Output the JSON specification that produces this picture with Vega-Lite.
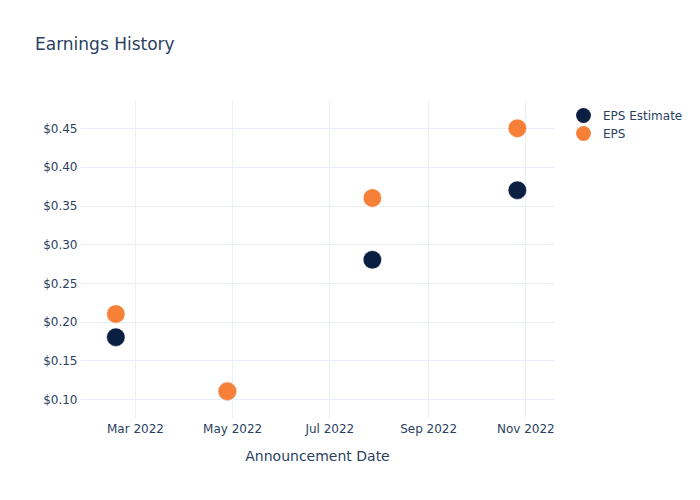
{
  "$schema": "https://vega.github.io/schema/vega-lite/v6.json",
  "width": 474,
  "height": 318,
  "autosize": "none",
  "padding": {"left": 80, "top": 100, "right": 146, "bottom": 82},
  "background": "white",
  "title": {
    "text": "Earnings History",
    "anchor": "start",
    "frame": "group",
    "dx": -45,
    "offset": 46,
    "font": "DejaVu Sans",
    "fontSize": 17,
    "fontWeight": "normal",
    "color": "#2a3f5f"
  },
  "config": {
    "view": {"stroke": null},
    "font": "DejaVu Sans"
  },
  "data": {
    "values": [
      {"date": "2022-02-17", "series": "EPS Estimate", "value": 0.18},
      {"date": "2022-04-28", "series": "EPS Estimate", "value": 0.11},
      {"date": "2022-07-28", "series": "EPS Estimate", "value": 0.28},
      {"date": "2022-10-27", "series": "EPS Estimate", "value": 0.37},
      {"date": "2022-02-17", "series": "EPS", "value": 0.21},
      {"date": "2022-04-28", "series": "EPS", "value": 0.11},
      {"date": "2022-07-28", "series": "EPS", "value": 0.36},
      {"date": "2022-10-27", "series": "EPS", "value": 0.45}
    ]
  },
  "mark": {"type": "circle", "size": 340, "opacity": 1, "stroke": "white", "strokeWidth": 0.5, "clip": false},
  "encoding": {
    "x": {
      "field": "date",
      "type": "temporal",
      "title": "Announcement Date",
      "scale": {"domain": ["2022-01-25T12:00:00", "2022-11-19T00:00:00"], "nice": false},
      "axis": {
        "values": ["2022-03-01T00:00:00", "2022-05-01T00:00:00", "2022-07-01T00:00:00", "2022-09-01T00:00:00", "2022-11-01T00:00:00"],
        "format": "%b %Y",
        "domain": false,
        "ticks": false,
        "grid": true,
        "gridColor": "#ebf0f8",
        "gridWidth": 1,
        "labelFont": "DejaVu Sans",
        "labelFontSize": 12,
        "labelColor": "#2a3f5f",
        "labelPadding": 5,
        "labelFlush": false,
        "titleFont": "DejaVu Sans",
        "titleFontSize": 14,
        "titleFontWeight": "normal",
        "titleColor": "#2a3f5f",
        "titlePadding": 15
      }
    },
    "y": {
      "field": "value",
      "type": "quantitative",
      "title": null,
      "scale": {"domain": [0.0755, 0.4866], "nice": false, "zero": false},
      "axis": {
        "values": [0.1, 0.15, 0.2, 0.25, 0.3, 0.35, 0.4, 0.45],
        "format": "$.2f",
        "domain": false,
        "ticks": false,
        "grid": true,
        "gridColor": "#ebf0f8",
        "gridWidth": 1,
        "labelFont": "DejaVu Sans",
        "labelFontSize": 12,
        "labelColor": "#2a3f5f",
        "labelPadding": 3
      }
    },
    "color": {
      "field": "series",
      "type": "nominal",
      "scale": {"domain": ["EPS Estimate", "EPS"], "range": ["#0b1f42", "#f68038"]},
      "legend": {
        "title": null,
        "orient": "none",
        "legendX": 496,
        "legendY": 8,
        "symbolType": "circle",
        "symbolSize": 220,
        "symbolStrokeWidth": 0,
        "symbolOpacity": 1,
        "labelFont": "DejaVu Sans",
        "labelFontSize": 12,
        "labelColor": "#2a3f5f",
        "labelOffset": 12,
        "rowPadding": 3,
        "padding": 0
      }
    },
    "order": {"field": "series", "sort": "descending"}
  }
}
